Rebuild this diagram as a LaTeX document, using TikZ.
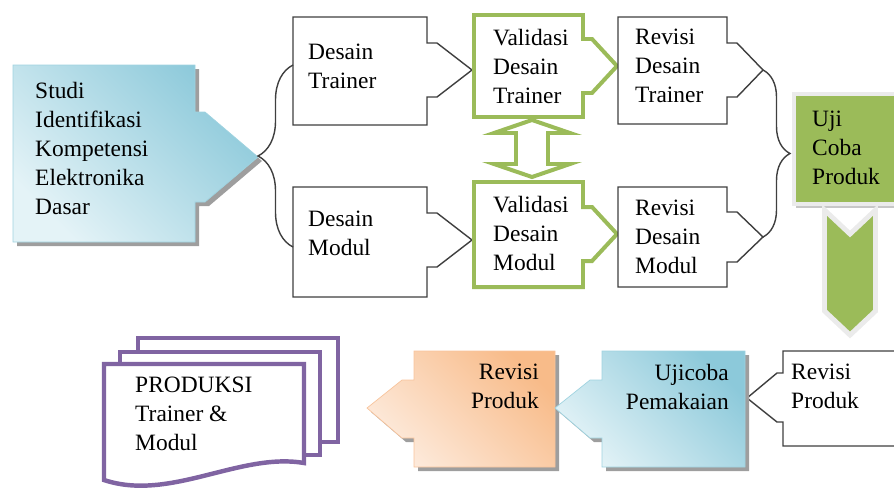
\documentclass[tikz,border=0pt]{standalone}
\usepackage{fontspec}
\setmainfont{Liberation Serif}
\usetikzlibrary{calc,decorations.pathreplacing}
\definecolor{grn}{HTML}{9BBB59}
\definecolor{prp}{HTML}{8064A2}
\definecolor{bluD}{HTML}{8CC9DA}
\definecolor{bluL}{HTML}{E4F3F7}
\definecolor{bluE}{HTML}{9FD3E0}
\definecolor{orgD}{HTML}{F8BB89}
\definecolor{orgL}{HTML}{FDEBDD}
\definecolor{orgE}{HTML}{F8C49C}
\definecolor{ink}{HTML}{3F3F3F}
\begin{document}
\begin{tikzpicture}[x=0.03cm,y=-0.03cm,line join=miter,
    txt/.style={font=\fontsize{20}{24.7}\selectfont,inner sep=0pt,align=left,anchor=north west},
    rtxt/.style={txt,align=right,anchor=north east},
    plain/.style={draw=ink,line width=1.2pt,fill=white},
    valid/.style={draw=grn,line width=3.4pt,fill=white},
    shd/.style={fill=black!38,draw=none},
    blu/.style={draw=bluE,line width=0.6pt,top color=bluD,bottom color=bluL,shading angle=-45},
    org/.style={draw=orgE,line width=0.6pt,top color=orgD,bottom color=orgL,shading angle=-45},
    uji/.style={draw=black!8,line width=4.2pt,fill=grn},
    doc/.style={draw=prp,line width=3.8pt,fill=white},
    brc/.style={draw=ink,line width=1.2pt,decorate,decoration={brace,amplitude=#1}}]
\useasboundingbox (0,0) rectangle (894,491);

\def\studipath{(13,65) -- (195,65) -- (195,112) -- (205,112) -- (258,157) -- (205,202) -- (195,202) -- (195,242) -- (13,242) -- cycle}
\fill[shd,shift={(4,4)}] \studipath;
\path[blu] \studipath;
\node[txt] (studi) at (35,82) {Studi\\Identifikasi\\Kompetensi\\Elektronika\\Dasar};
\coordinate (studiTip) at (258,157);

\path[plain] (293,17) -- (427,17) -- (427,43) -- (437,43) -- (472,70) -- (437,97) -- (427,97) -- (427,125) -- (293,125) -- cycle;
\node[txt] (desT) at (308,44) {Desain\\Trainer};
\path[plain] (293,187) -- (427,187) -- (427,213) -- (437,213) -- (472,240) -- (437,267) -- (427,267) -- (427,297) -- (293,297) -- cycle;
\node[txt] (desM) at (308,211) {Desain\\Modul};
\coordinate (desTw) at (293,65);
\coordinate (desMw) at (293,247);
\draw[brc=1.05cm] (desMw) -- (desTw);

\path[valid] (474,15) -- (583,15) -- (583,39) -- (592,39) -- (617,66) -- (592,93) -- (583,93) -- (583,117) -- (474,117) -- cycle;
\node[txt] (valT) at (493,29) {Validasi\\Desain\\Trainer};
\path[valid] (474,182) -- (583,182) -- (583,207) -- (592,207) -- (617,234) -- (592,261) -- (583,261) -- (583,287) -- (474,287) -- cycle;
\node[txt] (valM) at (493,196) {Validasi\\Desain\\Modul};
\coordinate (valTs) at (532,120);
\coordinate (valMn) at (532,177);
\path[valid] (valTs) -- ++(38,13) -- ++(-22,0) -- ++(0,31) -- ++(22,0) -- (valMn)
  -- ++(-38,-13) -- ++(22,0) -- ++(0,-31) -- ++(-22,0) -- cycle;

\path[plain] (618,17) -- (727,17) -- (727,43) -- (737,43) -- (763,70) -- (737,97) -- (727,97) -- (727,124) -- (618,124) -- cycle;
\node[txt] (revT) at (635,29) {Revisi\\Desain\\Trainer};
\path[plain] (618,187) -- (727,187) -- (727,212) -- (737,212) -- (763,237) -- (737,262) -- (727,262) -- (727,287) -- (618,287) -- cycle;
\node[txt] (revM) at (635,200) {Revisi\\Desain\\Modul};
\coordinate (revTe) at (763,70);
\coordinate (revMe) at (763,237);
\draw[brc=0.81cm] (revTe) -- (revMe);

\fill[black!22] (796,99) rectangle (900,208);
\path[uji] (794,94) rectangle (900,204);
\node[txt] (ujiP) at (812,111) {Uji\\Coba\\Produk};
\coordinate (ujiS) at (850,210);
\coordinate (rpN) at (850,335);
\path[uji] ($(ujiS)+(-25.5,0)$) -- ($(ujiS)+(0,24)$) -- ($(ujiS)+(25.5,0)$)
  -- ($(rpN)+(25.5,-24)$) -- (rpN) -- ($(rpN)+(-25.5,-24)$) -- cycle;

\path[plain] (900,351) -- (783,351) -- (783,373) -- (777,373) -- (747,398) -- (777,422) -- (783,422) -- (783,446) -- (900,446);
\node[txt] (revP) at (791,364) {Revisi\\Produk};

\def\orgpath{(414,351) -- (555,351) -- (555,467) -- (414,467) -- (414,438) -- (402,438) -- (367,408) -- (402,380) -- (414,380) -- cycle}
\fill[shd,shift={(4,4)}] \orgpath;
\path[org] \orgpath;
\node[rtxt] (revO) at (539,364) {Revisi\\Produk};

\def\ujipath{(602,351) -- (745,351) -- (745,467) -- (602,467) -- (602,438) -- (590,438) -- (555,408) -- (590,380) -- (602,380) -- cycle}
\fill[shd,shift={(4,4)}] \ujipath;
\path[blu] \ujipath;
\node[rtxt] (ujiC) at (729,364) {Ujicoba\\Pemakaian};

\path[doc] (138,338) rectangle (338,442);
\path[doc] (120,352) rectangle (320,455);
\path[doc] (104,364) -- (304,364) -- (304,463) .. controls (240,452) and (170,502) .. (104,480) -- cycle;
\node[txt] (prod) at (135,377) {PRODUKSI\\Trainer \&\\Modul};
\end{tikzpicture}
\end{document}
